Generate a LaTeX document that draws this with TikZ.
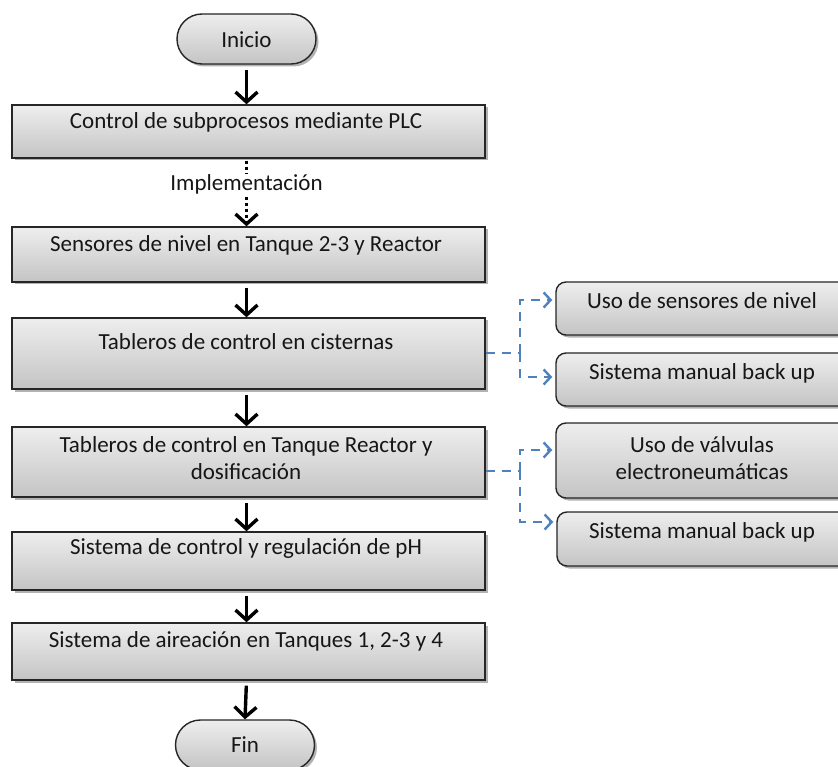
\documentclass[tikz,border=0pt]{standalone}
\usepackage{fontspec}
\setmainfont{Carlito}
\usetikzlibrary{arrows.meta,shadows,calc}

\definecolor{txt}{HTML}{161616}
\definecolor{edge}{HTML}{262626}
\definecolor{shadetop}{HTML}{EEEEEE}
\definecolor{shadebot}{HTML}{C4C4C4}
\definecolor{linkblue}{HTML}{4F81BD}

\tikzset{
  stepbox/.style={rectangle, draw=edge, line width=1.4pt,
    top color=shadetop, bottom color=shadebot,
    drop shadow={shadow xshift=2.5pt, shadow yshift=-2.5pt, fill=black, opacity=.3},
    minimum width=473pt, inner sep=0pt},
  sidebox/.style={rectangle, rounded corners=10pt, draw=edge, line width=1.4pt,
    top color=shadetop, bottom color=shadebot,
    drop shadow={shadow xshift=2.5pt, shadow yshift=-2.5pt, fill=black, opacity=.3},
    minimum width=294pt, inner sep=0pt},
  terminal/.style={rectangle, rounded corners=25pt, draw=edge, line width=1.4pt,
    top color=shadetop, bottom color=shadebot,
    drop shadow={shadow xshift=2.5pt, shadow yshift=-2.5pt, fill=black, opacity=.3},
    minimum width=139pt, minimum height=50pt, inner sep=0pt},
  lbl/.style={text=txt, font=\fontsize{23}{27}\selectfont, align=center, inner sep=0pt},
  flow/.style={draw=black, line width=3.4pt, shorten <=5pt,
    -{Straight Barb[length=10pt,width=22pt,line width=3.4pt]}},
  dotflow/.style={draw=black, line width=3.4pt, dash pattern=on 3pt off 3pt,
    shorten <=2pt, -{Straight Barb[length=10pt,width=22pt,line width=3.4pt]}},
  dashflow/.style={draw=linkblue, line width=2.6pt, dash pattern=on 9pt off 7pt,
    -{Straight Barb[length=7pt,width=15pt,line width=2.4pt]}},
}

\begin{document}
\begin{tikzpicture}[x=1pt,y=-1pt]
  \clip (0,0) rectangle (838,767);
  \fill[white] (0,0) rectangle (838,767);

  % main column
  \node[terminal] (inicio) at (246.5,39) {};
  \node[stepbox, minimum height=53pt] (b1) at (248.5,131.5) {};
  \node[stepbox, minimum height=55pt] (b2) at (248.5,254.5) {};
  \node[stepbox, minimum height=71pt] (b3) at (248.5,353.5) {};
  \node[stepbox, minimum height=70pt] (b4) at (248.5,462) {};
  \node[stepbox, minimum height=58pt] (b5) at (248.5,561) {};
  \node[stepbox, minimum height=57pt] (b6) at (248.5,651.5) {};
  \node[terminal] (fin) at (245,745) {};

  % side column
  \node[sidebox, minimum height=53pt] (r1) at (703,308.5) {};
  \node[sidebox, minimum height=53pt] (r2) at (703,379.5) {};
  \node[sidebox, minimum height=75pt] (r3) at (703,460.5) {};
  \node[sidebox, minimum height=54pt] (r4) at (704,539) {};

  % labels
  \node[lbl] (tInicio) at (246.5,40) {Inicio};
  \node[lbl] (t1) at (246,122) {Control de subprocesos mediante PLC};
  \node[lbl] (t2) at (246,245) {Sensores de nivel en Tanque 2-3 y Reactor};
  \node[lbl] (t3) at (246,342) {Tableros de control en cisternas};
  \node[lbl] (t4) at (246,458.5) {Tableros de control en Tanque Reactor y\\dosificación};
  \node[lbl] (t5) at (246,548) {Sistema de control y regulación de pH};
  \node[lbl] (t6) at (246,641) {Sistema de aireación en Tanques 1, 2-3 y 4};
  \node[lbl] (tFin) at (245,745) {Fin};
  \node[lbl] (s1) at (702,301) {Uso de sensores de nivel};
  \node[lbl] (s2) at (702,373) {Sistema manual back up};
  \node[lbl] (s3) at (702,458) {Uso de válvulas\\electroneumáticas};
  \node[lbl] (s4) at (702,532) {Sistema manual back up};

  % main flow
  \draw[flow] (inicio.south) -- (inicio.south |- b1.north);
  \draw[dotflow] (inicio.south |- b1.south) --
    node[lbl, fill=white, inner ysep=0.5pt, inner xsep=2pt, pos=0.38] (impl) {Implementación}
    (inicio.south |- b2.north);
  \draw[flow] (inicio.south |- b2.south) -- (inicio.south |- b3.north);
  \draw[flow] (inicio.south |- b3.south) -- (inicio.south |- b4.north);
  \draw[flow] (inicio.south |- b4.south) -- (inicio.south |- b5.north);
  \draw[flow] (inicio.south |- b5.south) -- (inicio.south |- b6.north);
  \draw[flow] (inicio.south |- b6.south) -- (fin.north);

  % branches
  \coordinate (j1) at (520,353);
  \coordinate (j2) at (520,471);
  \draw[dashflow, -] (b3.east |- j1) -- (j1);
  \draw[dashflow, shorten >=3pt] (j1) |- ([yshift=8.5pt]r1.west);
  \draw[dashflow, shorten >=3pt] (j1) |- ([yshift=2.5pt]r2.west);
  \draw[dashflow, -] (b4.east |- j2) -- (j2);
  \draw[dashflow, shorten >=3pt] (j2) |- ([yshift=10.5pt]r3.west);
  \draw[dashflow, shorten >=3pt] (j2) |- ([yshift=17pt]r4.west);
\end{tikzpicture}
\end{document}
